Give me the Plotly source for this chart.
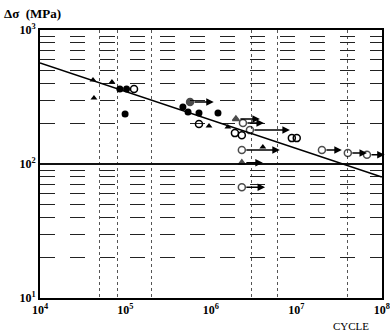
import math
import plotly.graph_objects as go

# S-N design line
line_N = [1e4, 1e8]
line_S = [567, 80]

# failed specimens
filled_circle_N = [8.6e4, 1.03e5, 9.9e4, 4.7e5, 5.4e5, 7.25e5, 1.21e6]
filled_circle_S = [363, 363, 236, 266, 244, 240, 240]
open_circle_N = [1.26e5, 7.25e5, 1.91e6, 2.3e6, 8.85e6, 1.01e7]
open_circle_S = [363, 199, 170, 164, 156, 156]
triangle_N = [4.17e4, 6.95e4, 4.28e4, 9.5e5, 1.58e6, 4.05e6]
triangle_S = [424, 409, 311, 192, 189, 134]

# run-outs (no failure), arrow from N to N_end
runout_type = ["filled", "triangle", "open", "open", "open", "open", "open", "open", "triangle", "open"]
runout_N = [5.7e5, 1.96e6, 2.37e6, 2.86e6, 2.3e6, 1.99e7, 4.0e7, 6.7e7, 2.3e6, 2.3e6]
runout_S = [290, 217, 202, 179, 127, 127, 121, 117, 102, 67]
runout_N_end = [1.08e6, 3.74e6, 4.17e6, 8.4e6, 6.4e6, 3.4e7, 6.7e7, 1.08e8, 4.05e6, 4.3e6]

x_ticks = [1e4, 1e5, 1e6, 1e7, 1e8]
x_ticktext = ["<b>10<sup>4</sup></b>", "<b>10<sup>5</sup></b>", "<b>10<sup>6</sup></b>",
              "<b>10<sup>7</sup></b>", "<b>10<sup>8</sup></b>"]
y_ticks = [10, 100, 1000]
y_ticktext = ["<b>10<sup>1</sup></b>", "<b>10<sup>2</sup></b>", "<b>10<sup>3</sup></b>"]
x_minor_grid = [5e4, 8e4, 2e5, 3e6, 6e6, 4e7]
y_minor_grid = [20, 30, 40, 50, 60, 70, 80, 90, 200, 300, 400, 500, 600, 700, 800, 900]

FONT = "Liberation Serif"
sym = {"filled": "circle", "open": "circle-open", "triangle": "triangle-up"}
size = {"filled": 7, "open": 7, "triangle": 6}

fig = go.Figure()
fig.add_trace(go.Scatter(x=line_N, y=line_S, mode="lines",
                         line=dict(color="black", width=1.5), showlegend=False))
fig.add_trace(go.Scatter(x=filled_circle_N, y=filled_circle_S, mode="markers",
                         marker=dict(symbol="circle", size=7, color="black"), showlegend=False))
fig.add_trace(go.Scatter(x=open_circle_N, y=open_circle_S, mode="markers",
                         marker=dict(symbol="circle-open", size=7, color="black", line=dict(width=1.5)),
                         showlegend=False))
fig.add_trace(go.Scatter(x=triangle_N, y=triangle_S, mode="markers",
                         marker=dict(symbol="triangle-up", size=6, color="black"), showlegend=False))
fig.add_trace(go.Scatter(x=runout_N, y=runout_S, mode="markers",
                         marker=dict(symbol=[sym[t] for t in runout_type],
                                     size=[size[t] for t in runout_type],
                                     color="black", line=dict(width=1.5, color="black")),
                         showlegend=False))

for n0, s, n1 in zip(runout_N, runout_S, runout_N_end):
    fig.add_annotation(x=math.log10(n1), y=math.log10(s), ax=math.log10(n0), ay=math.log10(s),
                       xref="x", yref="y", axref="x", ayref="y", text="", showarrow=True,
                       arrowhead=2, arrowsize=1, arrowwidth=1.5, arrowcolor="black",
                       startstandoff=3, standoff=0)

fig.add_annotation(text="<b>Δσ  (MPa)</b>", xref="paper", yref="paper", x=-0.11, y=1.0,
                   xanchor="left", yanchor="bottom", yshift=7, showarrow=False,
                   font=dict(family=FONT, size=13, color="black"))
fig.add_annotation(text="CYCLE", xref="paper", yref="paper", x=0.91, y=0, xanchor="center",
                   yanchor="top", yshift=-20, showarrow=False,
                   font=dict(family=FONT, size=11, color="black"))

fig.update_xaxes(type="log", range=[4, 8.002], tickmode="array", tickvals=x_ticks, ticktext=x_ticktext,
                 ticks="", showgrid=False, zeroline=False, automargin=False,
                 showline=True, mirror=True, linewidth=2, linecolor="black",
                 tickfont=dict(family=FONT, size=12, color="black"),
                 minor=dict(tickmode="array", tickvals=x_minor_grid, showgrid=True,
                            gridcolor="#555", griddash="dot", gridwidth=1, ticks=""))
fig.update_yaxes(type="log", range=[1, 3], tickmode="array", tickvals=y_ticks, ticktext=y_ticktext,
                 ticks="", showgrid=True, gridcolor="#111", gridwidth=1.5, zeroline=False,
                 automargin=False,
                 showline=True, mirror=True, linewidth=2, linecolor="black",
                 tickfont=dict(family=FONT, size=12, color="black"),
                 minor=dict(tickmode="array", tickvals=y_minor_grid, showgrid=True,
                            gridcolor="#222", griddash="longdash", gridwidth=1, ticks=""))

fig.update_layout(width=390, height=336, margin=dict(l=40, r=8, t=30, b=38),
                  paper_bgcolor="white", plot_bgcolor="white",
                  font=dict(family=FONT, color="black"))

fig.write_html("out.html", config={"displayModeBar": False},
               post_script="document.body.style.margin='0';")
